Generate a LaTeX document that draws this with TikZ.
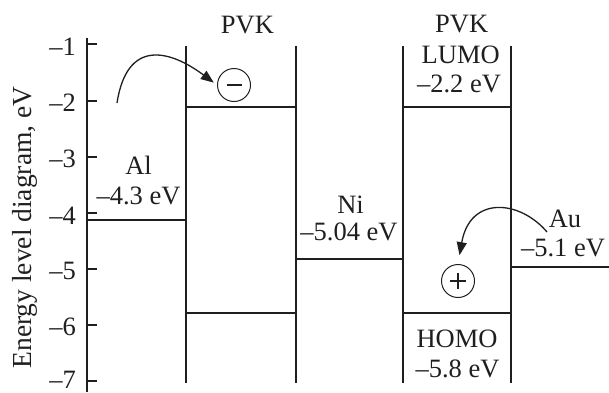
\documentclass[tikz,border=0pt]{standalone}
\usepackage{fontspec}
\setmainfont{Liberation Serif}
\usetikzlibrary{arrows.meta}
\begin{document}
\begin{tikzpicture}[x=1pt,y=-1pt,
  ink/.style={color=black!88},
  lvl/.style={ink,line width=2pt},
  tk/.style={ink,line width=1.6pt},
  lbl/.style={ink,inner sep=0pt,font=\fontsize{26.5}{30}\selectfont},
  ticklbl/.style={lbl,anchor=east},
  arr/.style={ink,line width=1.3pt,-{Triangle[length=13pt,width=10pt]}},
  chg/.style={ink,circle,draw,line width=1pt,minimum size=33pt,inner sep=0pt},
  sgn/.style={ink,line width=1.6pt}]
\useasboundingbox (0,0) rectangle (609,392);
% axis
\draw[lvl] (87,38) -- (87,392);
\foreach \v/\y/\ly in {1/44/46.5,2/101/103,3/157/159,4/213/215.5,5/269/271,6/325/327,7/381/379.5}{
  \draw[tk] (87,\y) -- (97,\y);
  \node[ticklbl] (t\v) at (76,\ly) {–\v};
}
\node[lbl,font=\fontsize{27.5}{30}\selectfont,rotate=90,anchor=base] (ylab) at (31.5,227.5) {Energy level diagram, eV};
% band verticals
\foreach \x in {186,296,403,511}{
  \draw[lvl] (\x,46) -- (\x,383);
}
% levels
\draw[lvl] (87,219.5) -- (186,219.5);   % Al
\draw[lvl] (186,107) -- (296,107);      % PVK1 LUMO
\draw[lvl] (186,312.5) -- (296,312.5);  % PVK1 HOMO
\draw[lvl] (296,259) -- (403,259);      % Ni
\draw[lvl] (403,107) -- (511,107);      % PVK2 LUMO
\draw[lvl] (403,312.5) -- (511,312.5);  % PVK2 HOMO
\draw[lvl] (511,267) -- (609,267);      % Au
% labels
\node[lbl] (pvk1) at (247.5,24.7) {PVK};
\node[lbl] (pvk2) at (461.7,24) {PVK};
\node[lbl] (lumo) at (460.7,55) {LUMO};
\node[lbl] (lumoev) at (459,84) {–2.2 eV};
\node[lbl] (al) at (138.5,165) {Al};
\node[lbl] (alev) at (138.5,195.5) {–4.3 eV};
\node[lbl] (ni) at (350.5,204.5) {Ni};
\node[lbl] (niev) at (349,232) {–5.04 eV};
\node[lbl] (au) at (565,218.5) {Au};
\node[lbl] (auev) at (563,247.5) {–5.1 eV};
\node[lbl] (homo) at (457,338.5) {HOMO};
\node[lbl] (homoev) at (457.5,369) {–5.8 eV};
% charges
\node[chg] (minus) at (234,85) {};
\draw[sgn] ([xshift=-7.5pt]minus.center) -- ([xshift=7.5pt]minus.center);
\node[chg] (plus) at (458,281) {};
\draw[sgn] ([xshift=-8pt]plus.center) -- ([xshift=8pt]plus.center);
\draw[sgn] ([yshift=-8pt]plus.center) -- ([yshift=8pt]plus.center);
% arrows
\coordinate (s1) at (117,103);
\coordinate (s2) at (547,232);
\draw[arr,shorten >=4pt] (s1) .. controls (127,38) and (170,50) .. (minus.west);
\draw[arr,shorten >=9pt] (s2) .. controls (520,200) and (470,195) .. (plus.north);
\end{tikzpicture}
\end{document}
